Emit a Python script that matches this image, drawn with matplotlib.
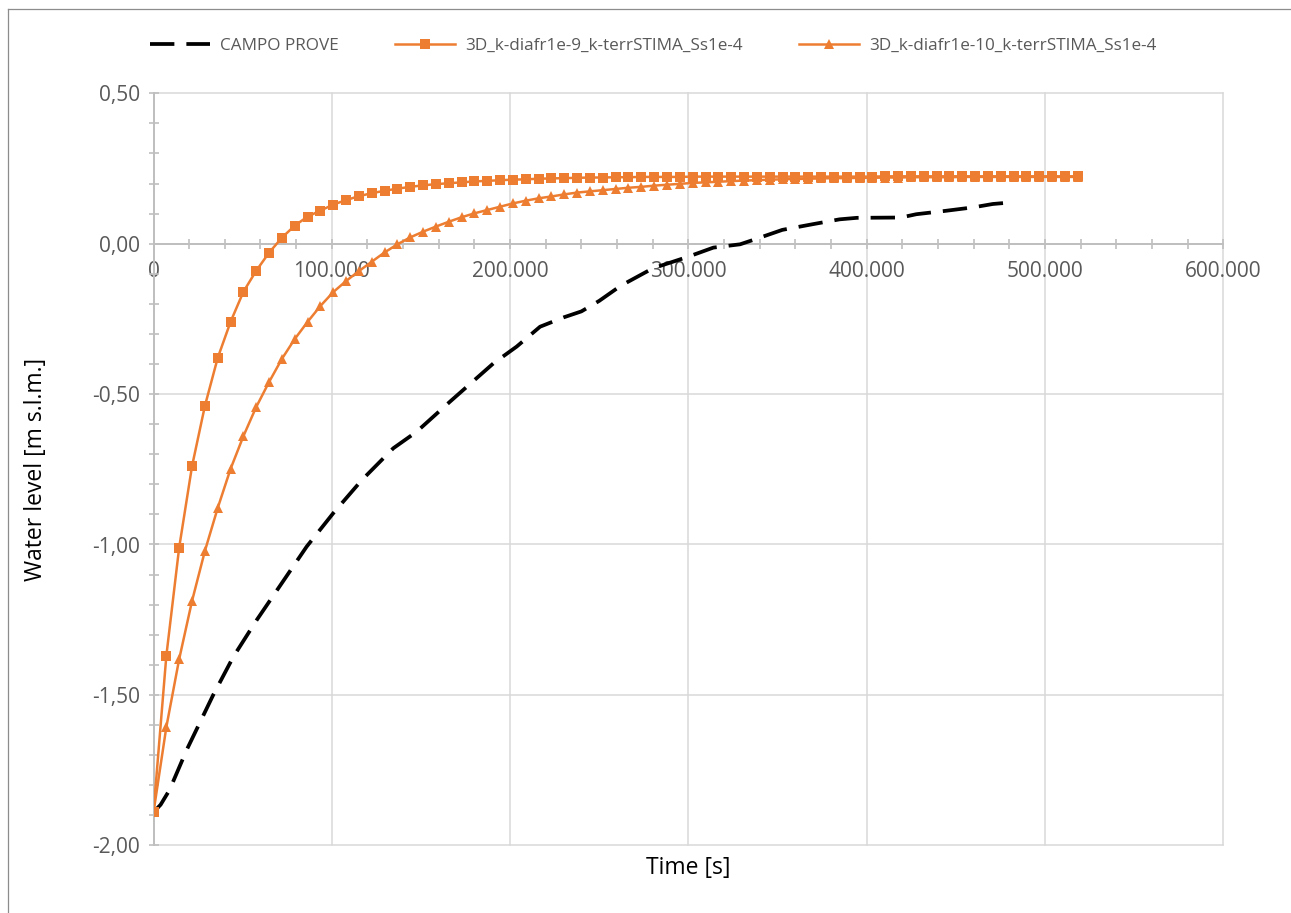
import matplotlib
matplotlib.use("Agg")
import matplotlib.pyplot as plt
from matplotlib.ticker import MultipleLocator, FuncFormatter
from matplotlib.lines import Line2D

# ---- data ---------------------------------------------------------------
step_s = 7200  # model output interval [s]

campo_time = [0, 4000, 9000, 18600, 33500, 44800, 57900, 71900, 85900, 100800,
              116800, 134500, 147600, 166300, 190600, 203700, 216800, 230000,
              240000, 250000, 262000, 280000, 300000, 314000, 329000, 337600,
              352700, 369900, 384800, 394500, 419200, 427800, 443900, 460000,
              470700, 482500]
campo_level = [-1.89, -1.865, -1.816, -1.683, -1.500, -1.373, -1.251, -1.129,
               -1.007, -0.896, -0.786, -0.680, -0.625, -0.525, -0.398, -0.342,
               -0.276, -0.245, -0.225, -0.190, -0.140, -0.082, -0.043, -0.013,
               -0.002, 0.015, 0.046, 0.065, 0.081, 0.086, 0.087, 0.098, 0.109,
               0.121, 0.132, 0.138]

level_k1e9 = [-1.89, -1.37, -1.01, -0.74, -0.54, -0.38, -0.26, -0.16, -0.09,
              -0.03, 0.02, 0.06, 0.09, 0.11, 0.13, 0.145, 0.158, 0.168, 0.176,
              0.183, 0.189, 0.194, 0.198, 0.201, 0.204, 0.207, 0.209, 0.211,
              0.213, 0.214, 0.216, 0.217, 0.218, 0.219, 0.220, 0.220, 0.221,
              0.221, 0.222, 0.222, 0.222, 0.222, 0.223, 0.223, 0.223, 0.223,
              0.223, 0.223, 0.223, 0.223, 0.223, 0.223, 0.223, 0.223, 0.223,
              0.223, 0.223, 0.224, 0.224, 0.224, 0.224, 0.224, 0.224, 0.224,
              0.224, 0.224, 0.224, 0.224, 0.224, 0.224, 0.224, 0.224, 0.224]

level_k1e10 = [-1.89, -1.607, -1.381, -1.188, -1.022, -0.879, -0.749, -0.640,
               -0.543, -0.460, -0.383, -0.317, -0.260, -0.207, -0.161, -0.124,
               -0.091, -0.060, -0.029, -0.002, 0.021, 0.040, 0.057, 0.073,
               0.088, 0.101, 0.112, 0.123, 0.134, 0.143, 0.151, 0.157, 0.164,
               0.170, 0.174, 0.178, 0.182, 0.186, 0.189, 0.193, 0.196, 0.199,
               0.202, 0.204, 0.206, 0.208, 0.210, 0.211, 0.213, 0.214, 0.215,
               0.216, 0.217, 0.218, 0.218, 0.219, 0.219, 0.220, 0.220, 0.221,
               0.221, 0.221, 0.221, 0.222, 0.222, 0.222, 0.222, 0.222, 0.222,
               0.222, 0.222, 0.222, 0.222]

time_k1e9 = [i * step_s for i in range(len(level_k1e9))]
time_k1e10 = [i * step_s for i in range(len(level_k1e10))]

labels = ["CAMPO PROVE",
          "3D_k-diafr1e-9_k-terrSTIMA_Ss1e-4",
          "3D_k-diafr1e-10_k-terrSTIMA_Ss1e-4"]

# ---- figure -------------------------------------------------------------
W, H = 1291, 913
plt.rcParams["font.family"] = ["Open Sans", "DejaVu Sans"]
fig = plt.figure(figsize=(W / 100, H / 100), dpi=100)
fig.patch.set_facecolor("white")

x0, x1 = 153.5, 1223.3
y0, y1 = 845.3, 93.3
ax = fig.add_axes([x0 / W, 1 - y0 / H, (x1 - x0) / W, (y0 - y1) / H])

orange = "#ED7D31"
grid_c = "#D9D9D9"
axis_c = "#BFBFBF"
text_c = "#595959"

ax.plot(campo_time, campo_level, color="black", lw=2.7,
        dashes=(6.5, 3.2), dash_capstyle="butt", label=labels[0], zorder=3)
ax.plot(time_k1e9, level_k1e9, color=orange, lw=1.8, marker="s",
        markersize=7, markeredgewidth=0, label=labels[1], zorder=4)
ax.plot(time_k1e10, level_k1e10, color=orange, lw=1.8, marker="^",
        markersize=7.5, markeredgewidth=0, label=labels[2], zorder=4)

ax.set_xlim(0, 600000)
ax.set_ylim(-2.0, 0.5)

# axes lines: y axis at t=0, x axis at level 0
for s in ("top", "right"):
    ax.spines[s].set_visible(False)
ax.spines["bottom"].set_position(("data", 0))
for s in ("left", "bottom"):
    ax.spines[s].set_color(axis_c)
    ax.spines[s].set_linewidth(1.4)
    ax.spines[s].set_zorder(2)

ax.xaxis.set_major_locator(MultipleLocator(100000))
ax.xaxis.set_minor_locator(MultipleLocator(20000))
ax.yaxis.set_major_locator(MultipleLocator(0.5))
ax.yaxis.set_minor_locator(MultipleLocator(0.1))

ax.xaxis.set_major_formatter(FuncFormatter(lambda v, p: f"{int(round(v)):,}".replace(",", ".")))
ax.yaxis.set_major_formatter(FuncFormatter(lambda v, p: f"{v:.2f}".replace(".", ",")))

ax.tick_params(axis="both", which="both", direction="inout", color=axis_c,
               width=1.2, labelcolor=text_c, labelsize=15)
ax.tick_params(axis="both", which="major", length=7.5)
ax.tick_params(axis="both", which="minor", length=6.5)
ax.tick_params(axis="x", which="major", pad=9)
ax.tick_params(axis="y", which="major", pad=6)

ax.grid(True, which="major", color=grid_c, lw=1.1, zorder=0)
ax.set_axisbelow(True)
for gl in ax.get_xgridlines() + ax.get_ygridlines():
    gl.set_clip_on(False)

# axis titles
fig.text(688 / W, 1 - 868 / H, "Time [s]", ha="center", va="center",
         fontsize=16.5, color="black")
fig.text(36 / W, 1 - 469 / H, "Water level [m s.l.m.]", ha="center",
         va="center", rotation=90, fontsize=16.5, color="black")

# legend across the top
leg = fig.legend(loc="center left", bbox_to_anchor=(150 / W, 1 - 46 / H),
                 bbox_transform=fig.transFigure, ncol=3, frameon=False,
                 fontsize=12.3, handlelength=3.5, handletextpad=0.6,
                 columnspacing=3.3, borderpad=0, borderaxespad=0)
for t in leg.get_texts():
    t.set_color(text_c)

# chart-area border
fig.add_artist(Line2D([7.5 / W, 7.5 / W], [0, 1 - 9.5 / H],
                      transform=fig.transFigure, color="#8C8C8C", lw=0.9))
fig.add_artist(Line2D([7.5 / W, 1], [1 - 9.5 / H, 1 - 9.5 / H],
                      transform=fig.transFigure, color="#8C8C8C", lw=0.9))

fig.savefig("out.png", dpi=100, facecolor="white")
